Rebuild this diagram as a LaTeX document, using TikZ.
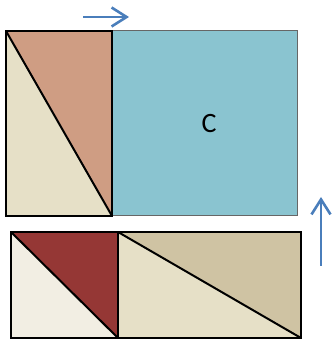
\documentclass[tikz,border=0pt]{standalone}
\usepackage{fontspec}
\setsansfont{Carlito}
\usetikzlibrary{arrows.meta}
\definecolor{piecebrown}{RGB}{207,157,131}
\definecolor{piecebeige}{RGB}{230,224,199}
\definecolor{piececyan}{RGB}{138,196,208}
\definecolor{piecered}{RGB}{149,55,53}
\definecolor{piecewhite}{RGB}{242,238,227}
\definecolor{piecetan}{RGB}{207,195,163}
\definecolor{movblue}{RGB}{74,126,187}

\begin{document}
\begin{tikzpicture}[
    x=1pt, y=1pt,
    edge/.style={draw=black, line width=2pt, line join=miter},
    soft/.style={draw=black!60, line width=1pt},
    move/.style={draw=movblue, line width=2.6pt,
                 -{Straight Barb[length=15pt,width=19pt,line width=2.6pt]}},
]
\useasboundingbox (0,0) rectangle (331,339);

%% ── top rectangle ────────────────────────────────────────────
\fill[piececyan] (112,123) rectangle (297,308);
\draw[soft] (112,308) -- (297,308) -- (297,123) -- (112,123);
\fill[piecebeige] (6,308) -- (112,123) -- (6,123) -- cycle;
\fill[piecebrown] (6,308) -- (112,308) -- (112,123) -- cycle;
\draw[edge] (6,123) rectangle (112,308);
\draw[edge] (6,308) -- (112,123);
\node[font=\sffamily\fontsize{28}{30}\selectfont] (c) at (209,215) {C};

%% ── bottom rectangle ─────────────────────────────────────────
\fill[piecewhite] (11,107) -- (118,1) -- (11,1) -- cycle;
\fill[piecered] (11,107) -- (118,107) -- (118,1) -- cycle;
\fill[piecebeige] (118,107) -- (301,1) -- (118,1) -- cycle;
\fill[piecetan] (118,107) -- (301,107) -- (301,1) -- cycle;
\draw[edge] (11,1) rectangle (118,107);
\draw[edge] (118,1) rectangle (301,107);
\draw[edge] (11,107) -- (118,1);
\draw[edge] (118,107) -- (301,1);

%% ── moves ────────────────────────────────────────────────────
\coordinate (r0) at (83,322);
\coordinate (r1) at (129,322);
\coordinate (u0) at (321,73);
\coordinate (u1) at (321,142);
\draw[move] (r0) -- (r1);
\draw[move] (u0) -- (u1);

\end{tikzpicture}
\end{document}
